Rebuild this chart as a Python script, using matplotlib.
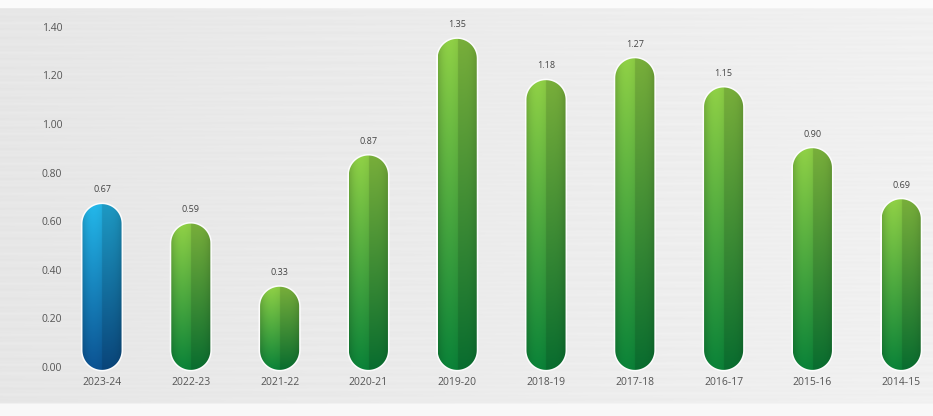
import numpy as np
import matplotlib
matplotlib.use("Agg")
import matplotlib.pyplot as plt
from matplotlib.patches import Polygon
from matplotlib.colors import to_rgb

plt.rcParams['font.family'] = ['Open Sans', 'DejaVu Sans']

years = ['2023-24', '2022-23', '2021-22', '2020-21', '2019-20',
         '2018-19', '2017-18', '2016-17', '2015-16', '2014-15']
values = [0.67, 0.59, 0.33, 0.87, 1.35, 1.18, 1.27, 1.15, 0.90, 0.69]
yticks = [0.0, 0.2, 0.4, 0.6, 0.8, 1.0, 1.2, 1.4]

W, H = 933, 416
fig = plt.figure(figsize=(W / 100, H / 100), dpi=100)

# brushed-metal backdrop
bg = fig.add_axes([0, 0, 1, 1], zorder=0)
bg.set_axis_off()
yy = np.linspace(0, 1, 400)[:, None]
xx = np.linspace(0, 1, 600)[None, :]
base = (0.905 + 0.04 * xx
        + 0.006 * np.sin(yy * 260) * np.cos(xx * 9)
        + 0.004 * np.sin(yy * 610 + xx * 3))
base = base + 0.0 * yy
base[yy[:, 0] < 0.018] = 0.985
base[yy[:, 0] > 0.972] = 0.975
bg.imshow(np.dstack([base] * 3).clip(0, 1), aspect='auto', extent=(0, 1, 0, 1),
          origin='upper')
bg.set_xlim(0, 1)
bg.set_ylim(0, 1)

left_px, right_px, bot_px, top_px = 72, 933, 374, 8
ax = fig.add_axes([left_px / W, 1 - bot_px / H, (right_px - left_px) / W,
                   (bot_px - top_px) / H], zorder=1)
ax.patch.set_alpha(0)
x = np.arange(len(years))
xlim = (-0.338, 9.358)
ylim = (-0.029, 1.477)
ax.set_xlim(*xlim)
ax.set_ylim(*ylim)
for s in ax.spines.values():
    s.set_visible(False)

bw = 0.44
px_x = (right_px - left_px) / (xlim[1] - xlim[0])
px_y = (bot_px - top_px) / (ylim[1] - ylim[0])
aspect = px_x / px_y  # data-y per data-x for equal pixel lengths


def capsule(xc, y0, y1, w):
    """Pill outline in data coords with round (on screen) ends."""
    rx = w / 2
    ry = rx * aspect
    th = np.linspace(0, np.pi, 40)
    top = np.column_stack([xc + rx * np.cos(th), y1 - ry + ry * np.sin(th)])
    bot = np.column_stack([xc + rx * np.cos(th + np.pi),
                           y0 + ry + ry * np.sin(th + np.pi)])
    return np.vstack([top, bot])


def bar_image(top_c, bot_c, n_y=200, n_x=60):
    t = np.linspace(0, 1, n_y)[:, None, None]
    top_c = np.array(to_rgb(top_c))[None, None, :]
    bot_c = np.array(to_rgb(bot_c))[None, None, :]
    img = top_c * (1 - t) + bot_c * t
    u = np.linspace(0, 1, n_x)
    shade = np.where(u < 0.5, 1.0 + 0.05 * np.sin(u * np.pi * 2), 0.87)
    shade = shade - 0.12 * (np.abs(u - 0.5) * 2) ** 4
    img = img * shade[None, :, None]
    return img.clip(0, 1)


for i, v in enumerate(values):
    if i == 0:
        img = bar_image('#22b0e0', '#0b4f8c')
    else:
        img = bar_image('#8ac843', '#0a7d36')
    y0 = -0.012
    pts = capsule(x[i], y0, v, bw)
    glow = Polygon(pts, closed=True, facecolor='none', edgecolor='white',
                   lw=2.2, alpha=0.9, zorder=2)
    ax.add_patch(glow)
    clip = Polygon(pts, closed=True, facecolor='none', edgecolor='none')
    ax.add_patch(clip)
    im = ax.imshow(img, extent=(x[i] - bw / 2, x[i] + bw / 2, y0, v),
                   aspect='auto', origin='upper', zorder=3,
                   interpolation='bilinear')
    im.set_clip_path(clip)
    ax.annotate(f'{v:.2f}', (x[i], v), xytext=(0, 7), textcoords='offset points',
                ha='center', va='bottom', fontsize=6.5, color='#444444')

ax.set_xticks(x)
ax.set_xticklabels(years)
ax.set_yticks(yticks)
ax.set_yticklabels([f'{t:.2f}' for t in yticks])
ax.tick_params(axis='both', length=0, labelsize=7.5, labelcolor='#555555')
ax.tick_params(axis='x', pad=2)
ax.tick_params(axis='y', pad=7)

fig.savefig('out.png', dpi=100)
